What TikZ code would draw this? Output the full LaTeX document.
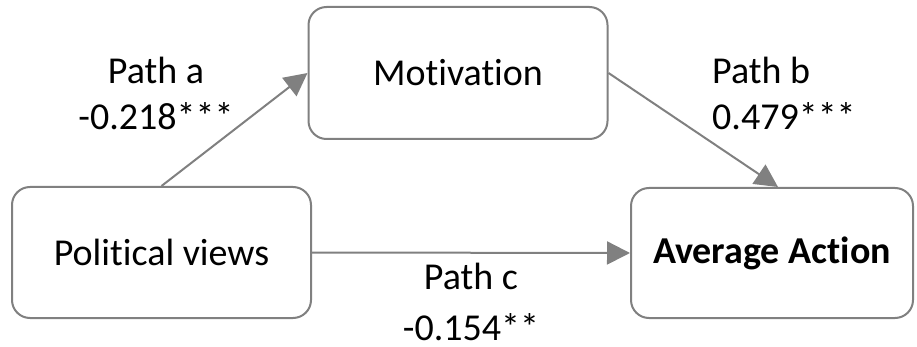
\documentclass[tikz,border=0pt]{standalone}
\usepackage{fontspec}
\setmainfont{Carlito}[Ligatures=NoCommon]
\usetikzlibrary{arrows.meta}

\begin{document}
\begin{tikzpicture}[x=1pt,y=-1pt,
  box/.style={draw=black!50, line width=2pt, rounded corners=18pt, fill=white,
    inner sep=0pt, font=\fontsize{38}{46}\selectfont},
  patharrow/.style={draw=black!50, line width=2pt,
    -{Triangle[length=23pt,width=23pt]}},
  coef/.style={inner sep=0pt, font=\fontsize{38}{46}\selectfont}]

\useasboundingbox (0,0) rectangle (917,347);

% Draw the three boxes
\node[box, minimum width=299pt, minimum height=131pt] (pv) at (161.5,252.5) {Political views};
\node[box, minimum width=299pt, minimum height=132pt] (mot) at (458,73) {Motivation};
\node[box, minimum width=282pt, minimum height=130pt] (aa) at (772,253) {\textbf{Average Action}};

% Draw the paths between them
\coordinate (aatop) at ([xshift=6pt]aa.north);
\draw[patharrow] (pv.north) -- (mot.west);
\draw[patharrow] (mot.east) -- (aatop);
\draw[patharrow] (pv.east) -- (aa.west);

% Path coefficients (base is the last line)
\node[coef, align=center, anchor=base] (pa) at (156,130) {Path a\\-0.218***};
\node[coef, align=left, anchor=base west] (pb) at (712,130) {Path b\\0.479***};
\node[coef, align=center, anchor=base] (pc) at (471,340) {Path c\\[5pt]-0.154**};

\end{tikzpicture}
\end{document}
